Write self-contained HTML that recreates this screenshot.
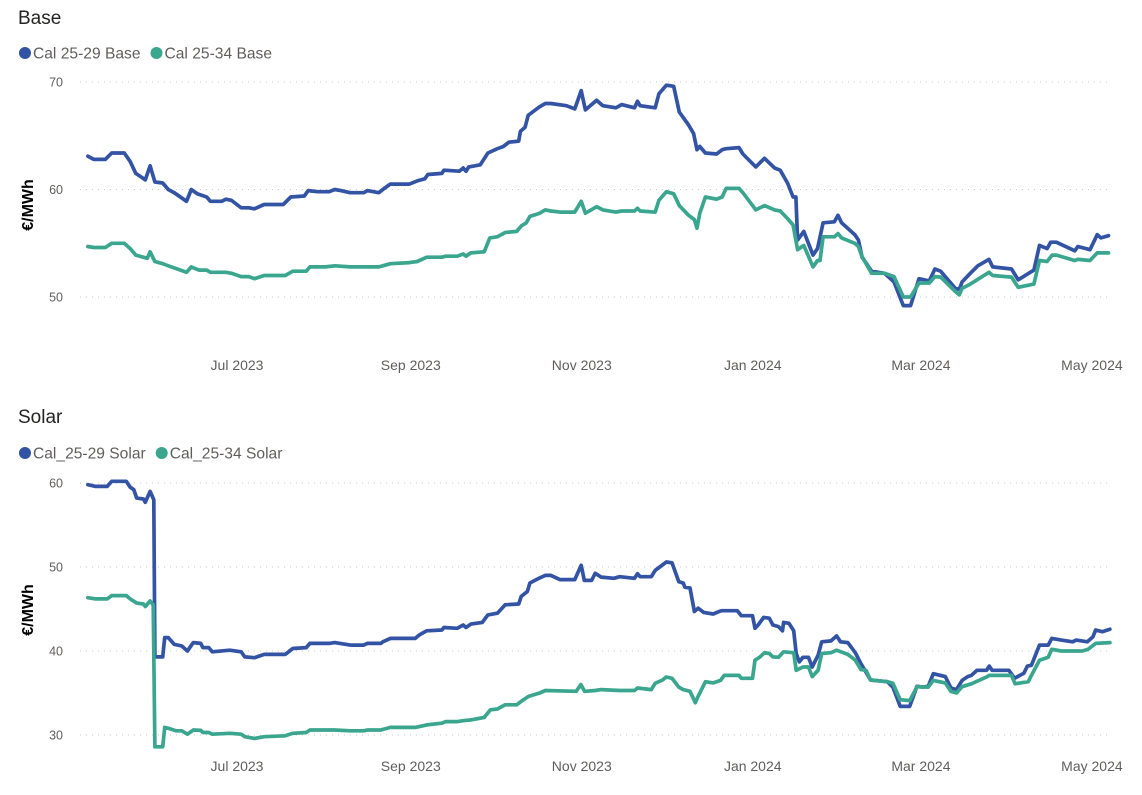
<!DOCTYPE html>
<html><head><meta charset="utf-8"><style>
html,body{margin:0;padding:0;background:#fff;width:1142px;height:795px;overflow:hidden}
svg{display:block;font-family:"Liberation Sans",sans-serif}
</style></head><body>
<svg id="root" width="1142" height="795" viewBox="0 0 1142 795"></svg>
<script>
// ---- Data (day offsets from 2023-07-01) ----
const tickLabels = ["Jul 2023","Sep 2023","Nov 2023","Jan 2024","Mar 2024","May 2024"];
const tickDays = [0,62,123,184,244,305];
const baseYTicks = [50,60,70];
const solarYTicks = [30,40,50,60];

const base29Days = [-53.2,-51.1,-47,-44.7,-40.2,-38.1,-36.1,-32.7,-31,-29.3,-26.5,-24.5,-22.4,-18,-16.3,-14.2,-10.8,-9.5,-5.4,-4,-2,1.5,4.2,6.2,9.7,16.5,19.2,24,25.4,28.8,32.9,34.9,37,40.4,45.2,46.5,50.6,52,54.7,61.5,64.3,67,68.1,73.1,73.8,79.3,80.7,81.7,82.7,86.8,89.5,92.9,95,97,100.5,101.1,102.8,103.9,108,110,112,117.5,120.5,122.8,124.3,128.3,130.5,135.2,137.2,141.8,142.9,143.8,149.2,150.5,153.2,155.8,157.8,161.1,162.9,164.1,165.1,167.1,171.1,173.1,174.5,179.1,180.5,185.1,188.2,191.8,193.8,196.4,198.4,199.4,200,202.2,205.5,207.1,209.1,213.1,214.4,215.7,220.4,221.7,223,226.4,231,234.4,237.7,240.3,243.3,247,249,251,256.3,257.7,258.7,261.6,264.3,268.3,269.6,276.3,278.7,284.3,286.3,289,290.3,292.3,298.9,300,304.3,306.9,308.2,310.9];
const base29Vals = [63.1,62.8,62.8,63.4,63.4,62.6,61.5,60.9,62.2,60.7,60.6,60.0,59.7,58.9,60.0,59.6,59.3,58.9,58.9,59.1,59.0,58.3,58.3,58.2,58.6,58.6,59.3,59.4,59.9,59.8,59.8,60.0,59.9,59.7,59.7,59.9,59.7,60.0,60.5,60.5,60.8,61.0,61.4,61.5,61.8,61.7,62.0,61.7,62.1,62.3,63.4,63.8,64.0,64.4,64.5,65.4,65.8,66.9,67.7,68.0,68.0,67.8,67.5,69.2,67.4,68.3,67.8,67.6,67.9,67.6,68.2,67.8,67.6,68.9,69.7,69.6,67.2,66.0,65.2,63.7,64.0,63.4,63.3,63.7,63.8,63.9,63.3,62.1,62.9,62.0,61.8,60.6,59.3,59.3,55.3,56.1,53.9,54.5,56.9,57.0,57.6,56.9,55.8,55.3,53.7,52.4,52.2,51.4,49.2,49.2,51.7,51.5,52.6,52.4,50.8,50.7,51.4,52.2,52.9,53.5,52.8,52.6,51.6,52.5,54.8,54.5,55.1,55.1,54.3,54.7,54.4,55.8,55.5,55.7];

const base34Days = [-53.2,-51.1,-47,-44.7,-40.2,-38.1,-36.1,-32,-31,-29.3,-26.5,-24.5,-18,-16.3,-13.6,-10.8,-9.5,-4,-2,1.5,4.2,6.2,9.7,17.2,19.9,24.7,26,31.5,34.9,40.4,45.2,46.5,50.6,54.7,61.5,64.3,67.7,73.1,74.5,78.6,80.7,81.7,83.4,88.2,90.2,92.9,95.7,99.8,101.4,103.2,104.5,108,110,112,115.2,120.5,122.8,124.3,128.3,130.5,135.2,137.2,141.8,142.9,143.8,149.2,150.5,153.2,155.8,157.8,161.1,163.2,164.1,165.1,167.1,171.1,173.1,174.5,179.1,180.5,185.1,188.2,191.8,193.8,196.4,198.4,200,202.2,205.5,207.1,208,209.1,213.1,214.4,215.7,220.4,221.7,223,226.4,231,234.4,237.7,240.3,243.3,247,249,251,256.3,257.7,258.7,261.6,268.3,269.6,276.3,278.7,284.3,286.3,289,290.8,292.3,298.9,300,304.3,306.9,310.9];
const base34Vals = [54.7,54.6,54.6,55.0,55.0,54.5,53.9,53.6,54.2,53.3,53.1,52.9,52.3,52.8,52.5,52.5,52.3,52.3,52.2,51.9,51.9,51.7,52.0,52.0,52.4,52.4,52.8,52.8,52.9,52.8,52.8,52.8,52.8,53.1,53.2,53.3,53.7,53.7,53.8,53.8,54.0,53.8,54.1,54.2,55.5,55.6,56.0,56.1,56.6,56.9,57.5,57.8,58.1,58.0,57.9,57.9,58.9,57.8,58.4,58.1,57.9,58.0,58.0,58.25,58.0,57.9,59.0,59.8,59.6,58.5,57.6,57.2,56.4,57.8,59.3,59.1,59.3,60.1,60.1,59.7,58.1,58.5,58.1,58.0,57.3,56.7,54.4,54.8,52.8,53.4,53.4,55.6,55.6,55.9,55.5,55.0,54.7,53.75,52.2,52.2,51.9,50.0,50.0,51.3,51.3,51.9,51.85,50.5,50.2,50.8,51.2,52.3,52.0,51.85,50.9,51.2,53.4,53.3,53.9,53.9,53.4,53.5,53.4,54.1,54.1];

const sol29Days = [-53.2,-50.4,-46.3,-44.7,-39.5,-38.1,-36.8,-35.8,-33.4,-32.7,-31,-29.7,-29.3,-26.5,-25.8,-24.5,-22.4,-19.7,-17.7,-15.6,-12.9,-12.2,-10.1,-8.8,-2.6,1.5,2.8,6.2,9.7,17.2,19.9,24.7,26,32.9,34.9,40.4,45.2,46.5,51.3,52,54.7,63.6,65,67.7,73.1,73.8,78.6,80.7,81.7,83.4,87.5,89.5,92.9,95.7,100.5,101.4,103.6,104.5,108,110,112,115.2,120.5,122.8,123.9,126.5,127.8,129.9,134.5,136.5,141.8,142.9,143.8,147.8,149.2,153.2,155.2,157.6,159.2,159.8,161.6,163.2,164.5,166.5,169.9,171.2,172.8,178.5,179.9,183.9,184.8,185.9,187.9,189.9,191.2,193.2,194.6,195,196.9,198.6,199.5,200.6,201.9,203.9,205.2,207.3,208.6,211.9,213.9,215.3,217.9,220.6,222.6,224,226,232,234,236.6,240,242.6,244.6,246.6,248.4,252.7,254.7,256.7,258.7,260.7,262,264,267.4,268.4,269.4,275.4,277.4,280.7,282,283.4,286.3,289.4,290.7,294.1,298.1,299.4,303.4,305.4,306.3,308.7,311.4];
const sol29Vals = [59.8,59.6,59.6,60.2,60.2,59.5,59.2,58.2,58.1,57.7,59.0,58.0,39.3,39.3,41.6,41.6,40.8,40.6,40.0,41.0,40.9,40.4,40.4,39.9,40.1,39.9,39.3,39.2,39.6,39.6,40.3,40.4,40.9,40.9,41.0,40.7,40.7,40.9,40.9,41.1,41.5,41.5,41.9,42.4,42.5,42.8,42.7,43.1,42.8,43.2,43.4,44.3,44.5,45.5,45.6,46.5,47.1,48.1,48.7,49.0,49.0,48.5,48.5,50.2,48.4,48.4,49.25,48.8,48.65,48.85,48.65,49.2,48.85,48.85,49.6,50.6,50.5,48.25,48.1,47.6,47.5,44.7,45.1,44.6,44.4,44.6,44.8,44.8,44.2,44.2,42.7,43.1,44.0,43.9,43.1,42.9,42.4,43.4,43.3,42.4,39.7,38.7,39.25,39.25,38.1,39.5,41.1,41.2,41.8,41.1,41.0,39.8,38.5,37.7,36.55,36.35,35.7,33.4,33.4,35.8,35.7,35.8,37.3,36.95,35.6,35.4,36.5,36.95,37.1,37.7,37.7,38.2,37.7,37.7,36.75,37.35,38.2,38.3,40.7,40.7,41.5,41.3,41.1,41.3,41.1,41.7,42.5,42.3,42.6];

const sol34Days = [-53.2,-50.4,-46.3,-44.7,-39.5,-38.1,-35.8,-33.4,-32.7,-31,-29.9,-29.3,-26.5,-25.8,-24.5,-21.8,-19.7,-17.7,-15.6,-12.9,-12.2,-10.1,-8.8,-2.6,1.5,2.8,6.2,9.7,17.2,19.9,24.7,26,34.9,40.4,45.2,46.5,51.3,54.7,63.6,67.7,73.1,74.5,78.6,80.7,83.4,88.2,90.4,92.9,95.7,99.8,101.4,104,108,110,121,122.7,124,127.8,129.9,136.5,141.8,142.9,147.8,149.2,151.8,153.2,155.2,157.6,159.2,161.6,163.5,164.5,167.1,169.9,172.5,173.8,179.1,179.9,183.9,184.8,186.4,188.2,189.9,191.2,193.2,195,198.6,199.5,201.9,203.9,205.2,207.3,208.6,211.9,213.9,217.9,220.6,222.6,224.4,226,232,234,236.6,240,242.6,246.6,248.4,252.7,254.7,256.7,258.7,262,267.4,268.4,276.3,277.6,282.3,283.2,286.3,289.4,290.7,294.1,301.6,303.6,306.3,311.4];
const sol34Vals = [46.35,46.2,46.2,46.6,46.6,46.2,45.7,45.6,45.3,45.95,45.5,28.6,28.6,30.9,30.8,30.5,30.5,30.1,30.6,30.55,30.3,30.3,30.1,30.2,30.1,29.8,29.6,29.8,29.9,30.2,30.3,30.6,30.6,30.5,30.5,30.6,30.6,30.9,30.9,31.2,31.4,31.6,31.6,31.7,31.8,32.1,33.0,33.1,33.6,33.6,34.0,34.6,35.0,35.3,35.2,36.0,35.2,35.3,35.4,35.3,35.3,35.6,35.4,36.15,36.55,36.9,36.75,35.7,35.4,35.2,33.85,34.6,36.35,36.2,36.5,37.1,37.1,36.75,36.75,38.9,39.25,39.8,39.7,39.3,39.25,39.9,39.8,37.7,38.1,38.1,36.95,37.7,39.7,39.8,40.1,39.6,38.9,37.8,37.7,36.55,36.35,36.15,34.2,34.1,35.75,35.7,36.5,36.2,35.2,35.0,35.75,36.1,36.9,37.1,37.1,36.1,36.35,36.95,38.9,39.25,40.2,40.0,40.0,40.2,40.9,41.0];

// ---- Rendering ----
const NS = "http://www.w3.org/2000/svg";
const root = document.getElementById('root');
const BLUE = "#3353A5", GREEN = "#3BA68F";
function mk(tag, attrs, parent, text){
  const e = document.createElementNS(NS, tag);
  for (const k in attrs) e.setAttribute(k, attrs[k]);
  if (text !== undefined) e.textContent = text;
  (parent || root).appendChild(e);
  return e;
}
const xScale = d => 237 + d * 2.803;

function drawChart(cfg){
  const g = mk('g', {});
  
  
  const yScale = v => cfg.y0 - (v - cfg.v0) * cfg.pxPerUnit;
  const t = mk('text', {x:18, y:cfg.titleY, 'font-size':19, fill:'#252423'}, g, cfg.title);
  
  
  let lx = 18;
  cfg.legend.forEach((lab, i) => {
    const lg = mk('g', {}, g);
    
    
    mk('circle', {cx:lx+7, cy:cfg.legendY, r:6, fill:i===0?BLUE:GREEN}, lg);
    const tx = mk('text', {x:lx+15, y:cfg.legendY+5.5, 'font-size':15.6, fill:'#605E5C'}, lg, lab);
    lx += 15 + tx.getComputedTextLength() + 9;
  });
  cfg.yTicks.forEach(v => {
    const y = yScale(v);
    const gl = mk('line', {x1:80, x2:1110, y1:y, y2:y, stroke:'#c8c8c8', 'stroke-width':1, 'stroke-dasharray':'1 5'}, g);
    
    
    const tl = mk('text', {x:63, y:y+4.5, 'font-size':12.5, fill:'#605E5C', 'text-anchor':'end'}, g, String(v));
    
    
  });
  const yt = mk('text', {x:0, y:0, 'font-size':16, 'font-weight':'bold', fill:'#000', 'text-anchor':'middle', transform:`translate(33,${cfg.yTitleY}) rotate(-90)`}, g, '€/MWh');
  
  
  tickLabels.forEach((lab, i) => {
    const xl = mk('text', {x:xScale(tickDays[i]), y:cfg.xLabelY, 'font-size':14, fill:'#605E5C', 'text-anchor':'middle'}, g, lab);
    
    
  });
  cfg.series.forEach((s, i) => {
    const pts = s.days.map((d, j) => xScale(d).toFixed(1) + ',' + yScale(s.vals[j]).toFixed(1)).join(' ');
    const pl = mk('polyline', {points:pts, fill:'none', stroke:s.color, 'stroke-width':3.7, 'stroke-linejoin':'round', 'stroke-linecap':'round'}, g);
    
    
  });
}

drawChart({name:'base-chart', title:'Base', titleY:24, legendY:53, y0:297, v0:50, pxPerUnit:10.75,
  yTicks:baseYTicks, yTitleY:205, xLabelY:370,
  legend:['Cal 25-29 Base','Cal 25-34 Base'],
  series:[{name:'cal-25-29-base-line', color:BLUE, days:base29Days, vals:base29Vals},{name:'cal-25-34-base-line', color:GREEN, days:base34Days, vals:base34Vals}]});
drawChart({name:'solar-chart', title:'Solar', titleY:423, legendY:453, y0:735, v0:30, pxPerUnit:8.4,
  yTicks:solarYTicks, yTitleY:610, xLabelY:771,
  legend:['Cal_25-29 Solar','Cal_25-34 Solar'],
  series:[{name:'cal-25-29-solar-line', color:BLUE, days:sol29Days, vals:sol29Vals},{name:'cal-25-34-solar-line', color:GREEN, days:sol34Days, vals:sol34Vals}]});
</script>
</body></html>
